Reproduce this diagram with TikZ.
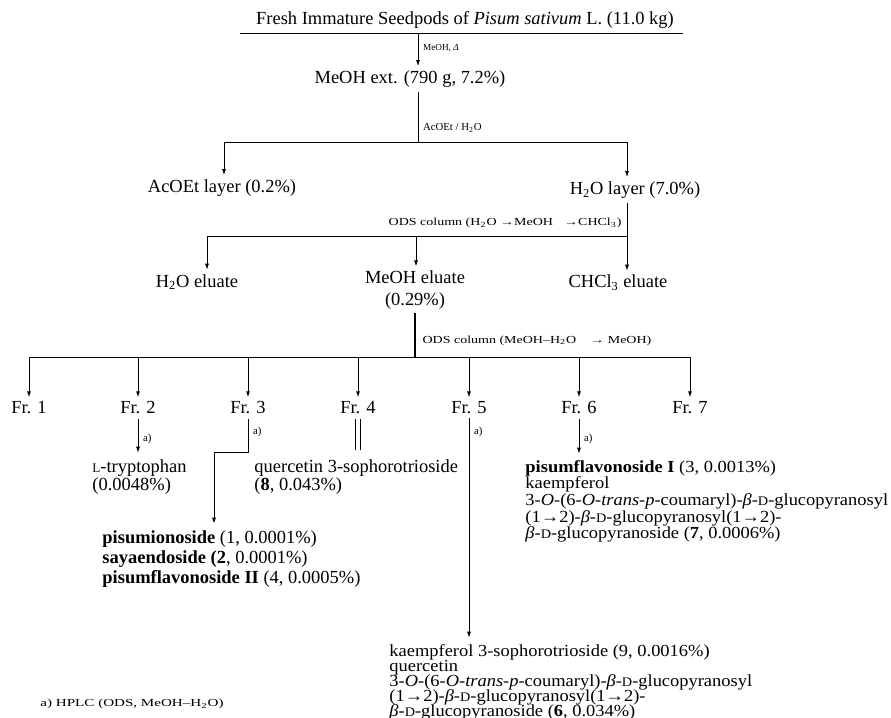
\documentclass[tikz,border=0pt]{standalone}
\usepackage{fontspec}
\usepackage{graphicx}
\setmainfont{Liberation Serif}
\usetikzlibrary{positioning,arrows.meta}
\newcommand{\dsc}[1]{{\fontsize{8.5}{9}\selectfont #1}}
\newcommand{\tightlines}{\lineskiplimit=-20pt\relax}
\newcommand{\wide}[1]{\scalebox{1.3}[1]{#1}}
\newcommand{\sline}[1]{\scalebox{1.09}[1]{#1}}
\begin{document}
\begin{tikzpicture}[
    x = 0.65pt, y = -0.65pt,
    line width = 0.6pt,
    every node/.style = {inner sep = 2.5pt, font = \fontsize{12}{12}\selectfont},
    arr/.style = {-{Latex[length = 4pt, width = 2.6pt]}},
    toblk/.style = {arr, shorten > = 4pt},
    note/.style = {anchor = west, inner sep = 0pt, font = \fontsize{7}{8}\selectfont},
    blk/.style = {anchor = north west, align = left, inner sep = 0pt}
]
\useasboundingbox (0,0) rectangle (891,718);
% extraction
\node (title) at (465,20) {Fresh Immature Seedpods of \textit{Pisum sativum} L. (11.0 kg)};
\coordinate (ul) at (240,33);
\coordinate (ur) at (683,33);
\draw (ul) -- (ur);
\coordinate (s0) at (418,33);
\node (ext) at (410,79) {MeOH ext. (790 g, 7.2\%)};
\draw[arr] (s0) -- (s0 |- ext.north) node[note, pos = 0.45, xshift = 3pt, font = \fontsize{6}{7}\selectfont] {MeOH, \textit{Δ}};
% partition
\coordinate (j1) at (418,142);
\coordinate (j1l) at (224,142);
\coordinate (j1r) at (627,142);
\node (aco) at (222,188) {AcOEt layer (0.2\%)};
\node (hwl) at (635,190) {H\textsubscript{2}O layer (7.0\%)};
\draw (ext.south -| j1) -- (j1) node[note, pos = 0.72, xshift = 3pt] {AcOEt / H\textsubscript{2}O};
\draw (j1l) -- (j1r);
\draw[arr] (j1l) -- (j1l |- aco.north);
\draw[arr] (j1r) -- (j1r |- hwl.north);
% first ODS column
\coordinate (j2r) at (627,236);
\coordinate (j2l) at (207,236);
\coordinate (j2m) at (416,236);
\node (h2e) at (197,282) {H\textsubscript{2}O eluate};
\node (mel) at (415,290) [align = center, font = \fontsize{12}{14}\selectfont] {MeOH eluate\\(0.29\%)};
\node (chl) at (618,283) {CHCl\textsubscript{3} eluate};
\draw[arr] (j2r |- hwl.south) -- (j2r |- chl.north);
\draw (j2r) -- (j2l);
\draw[arr] (j2l) -- (j2l |- h2e.north);
\draw[arr] (j2m) -- (j2m |- mel.north);
\node[note, anchor = east] (ods1) at (622,223) {\wide{ODS column (H\textsubscript{2}O →MeOH\hspace{0.8em}→CHCl\textsubscript{3})}};
% second ODS column
\coordinate (j3) at (415,357);
\draw[line width = 1.8pt] (j3 |- mel.south) -- (j3) node[note, pos = 0.62, xshift = 4pt] {\wide{ODS column (MeOH–H\textsubscript{2}O\hspace{1em}→ MeOH)}};
\foreach \i/\x in {1/29, 2/138, 3/248, 4/358, 5/469, 6/579, 7/690} {
  \node (fr\i) at (\x,408) {Fr. \i};
  \coordinate (t\i) at (\x,357);
  \draw[arr] (t\i) -- (fr\i.north);
}
\draw (t1) -- (t7);
% compounds
\node[blk, font = \fontsize{12}{10.5}\selectfont] (trp) at (92,459) {\dsc{L}-tryptophan\\(0.0048\%)};
\draw[toblk] (fr2.south) -- (fr2.south |- trp.north) node[note, midway, xshift = 3pt] {a)};
\coordinate (k3) at (248,452);
\coordinate (k3b) at (214,452);
\node[blk, font = \fontsize{12}{13}\selectfont] (pis) at (102,530) {\textbf{pisumionoside} (1, 0.0001\%)\\\textbf{sayaendoside (2}, 0.0001\%)\\\textbf{pisumflavonoside II} (4, 0.0005\%)};
\draw[toblk] (fr3.south) -- (k3) node[note, pos = 0.4, xshift = 3pt] {a)} -- (k3b) -- (k3b |- pis.north);
\coordinate (k4) at (358,450);
\draw[double, double distance = 2.5pt, line width = 0.5pt] (fr4.south) -- (fr4.south |- k4);
\node[blk, font = \fontsize{12}{10.5}\selectfont] (que) at (254,459) {quercetin 3-sophorotrioside\\(\textbf{8}, 0.043\%)};
\node[blk, font = \fontsize{11}{10.8}\selectfont\tightlines] (pfl) at (525,460) {\sline{\textbf{pisumflavonoside I} (3, 0.0013\%)}\\\sline{kaempferol}\\\sline{3-\textit{O}-(6-\textit{O}-\textit{trans}-\textit{p}-coumaryl)-\textit{β}-\dsc{D}-glucopyranosyl}\\\sline{(1→2)-\textit{β}-\dsc{D}-glucopyranosyl(1→2)-}\\\sline{\textit{β}-\dsc{D}-glucopyranoside (\textbf{7}, 0.0006\%)}};
\draw[toblk] (fr6.south) -- (fr6.south |- pfl.north) node[note, midway, xshift = 3pt] {a)};
\node[blk, font = \fontsize{11}{9.7}\selectfont\tightlines] (kae) at (389,644) {\sline{kaempferol 3-sophorotrioside (9, 0.0016\%)}\\\sline{quercetin}\\\sline{3-\textit{O}-(6-\textit{O}-\textit{trans}-\textit{p}-coumaryl)-\textit{β}-\dsc{D}-glucopyranosyl}\\\sline{(1→2)-\textit{β}-\dsc{D}-glucopyranosyl(1→2)-}\\\sline{\textit{β}-\dsc{D}-glucopyranoside (\textbf{6}, 0.034\%)}};
\draw[toblk] (fr5.south) -- (fr5.south |- kae.north) node[note, pos = 0.06, xshift = 3pt] {a)};
% footnote
\node[note] (foot) at (40,704) {\scalebox{1.4}[1]{a) HPLC (ODS, MeOH–H\textsubscript{2}O)}};
\end{tikzpicture}
\end{document}
